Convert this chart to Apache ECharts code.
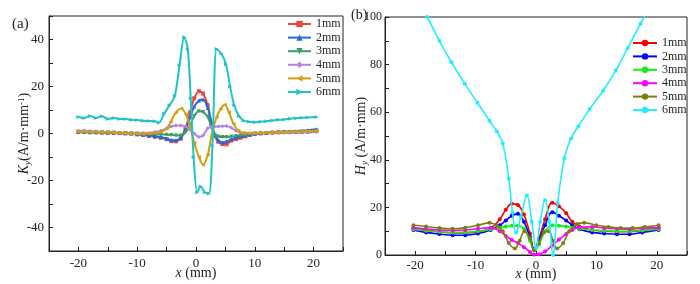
<!DOCTYPE html>
<html>
<head>
<meta charset="utf-8">
<script src="https://cdn.jsdelivr.net/npm/echarts@6/dist/echarts.min.js"></script>
<style>
html,body{margin:0;padding:0;background:#fff;}
#c{width:700px;height:284px;}
</style>
</head>
<body>
<div id="c"></div>
<script>
// ---------- Data: panel (a) K_y ----------
const names = ['1mm','2mm','3mm','4mm','5mm','6mm'];
const kxA = [-20,-19,-18,-17,-16,-15,-14,-13,-12,-11,-10,-9,-8,-7,-6,-5,-4.2,-3.4,-2.6,-1.8,-1,-0.3,0.5,1.2,2,2.6,3.2,3.8,4.5,5.2,6,6.8,7.6,8.4,9.2,10,11,12,13,14,15,16,17,18,19,20.5];
const ky1 = [0.8,0.8,0.7,0.6,0.5,0.4,0.3,0.2,0.1,0,-0.3,-0.6,-1.0,-1.4,-1.8,-2.4,-3.2,-3.3,-2.2,2,9,15,18,17,12,4,-1,-3.5,-4.5,-4.6,-3,-2.4,-1.8,-1.2,-0.6,-0.2,0,0.2,0.4,0.5,0.6,0.6,0.7,0.7,0.8,1.2];
const ky2 = [0.6,0.6,0.5,0.5,0.4,0.3,0.3,0.2,0.1,0,-0.3,-0.5,-0.8,-1.2,-1.6,-2.2,-2.8,-2.9,-1.8,1.5,7,11.5,14,14.5,11,5,-0.5,-3,-3.8,-3.4,-2.5,-1.8,-1.2,-0.8,-0.4,0,0.2,0.3,0.5,0.6,0.8,0.9,1.0,1.2,1.4,1.8];
const ky3 = [0.5,0.5,0.5,0.4,0.4,0.3,0.3,0.2,0.1,0,0,-0.1,-0.2,-0.3,-0.4,-0.5,-0.6,-0.8,-0.8,0.5,3.5,7.5,9.5,9.2,7,3,-0.5,-1.3,-1.5,-1.5,-1.3,-1.1,-0.8,-0.5,-0.2,0,0.1,0.2,0.2,0.3,0.3,0.4,0.4,0.5,0.5,0.6];
const ky4 = [1.0,1.2,0.8,0.9,0.6,0.6,0.4,0.3,0.1,0.1,0,0,0.2,0.6,1.2,2.2,3.0,3.4,3.4,3.0,1.5,0,-1.5,-0.8,2.2,2.7,2.9,3.0,3.1,3.2,2.4,1.2,0.4,0.1,0.1,0.2,0.2,0.3,0.3,0.4,0.4,0.5,0.5,0.6,0.7,0.8];
const kxB = [-20,-19,-18,-17,-16,-15,-14,-13,-12,-11,-10,-9,-8,-7,-6,-5,-4.3,-3.4,-2.5,-1.7,-1,-0.3,0.5,1.2,2.0,2.7,3.5,4.2,4.9,5.6,6.4,7.2,8,9,10,11,12,13,14,15,16,17,18,19,20.5];
const ky5 = [0.8,0.7,0.6,0.6,0.5,0.5,0.4,0.3,0.2,0,-0.1,-0.2,-0.1,0.2,0.6,2.0,5,9,10.6,8,3,-4,-10,-13.3,-9,0,7,10.5,12.2,9,4,1.2,0.3,0.1,0.2,0.3,0.3,0.4,0.5,0.6,0.7,0.8,0.9,1.0,1.3];
const kxC = [-20,-19,-18,-17,-16,-15,-14,-13,-12,-11,-10,-9,-8,-7,-6.3,-5.4,-4.5,-3.6,-2.8,-2.0,-1.4,-0.9,-0.4,0.2,0.8,1.5,2.2,2.8,3.5,4.3,5.1,5.8,6.5,7.3,8.1,9,10,11,12,13,14,15,16,17,18,19,20.5];
const ky6 = [7.0,6.6,7.5,6.6,7.3,6.2,6.6,6.2,6.2,5.8,5.7,5.4,5.3,5.2,4.6,8.5,12,16,29,41,36,15,-10,-25,-22.5,-25,-25.5,-5,36,34,29.5,20,12,7.5,5.5,5.0,4.8,5.0,5.2,5.5,5.8,6.0,6.3,6.5,6.7,6.8,7.0];

// ---------- Data: panel (b) H_y ----------
const hx = [-20.3,-18.2,-16,-13.8,-11.7,-9.6,-7.5,-6,-5,-4,-3,-2,-1,-0.3,0.5,1.5,2.7,3.8,5,6,7.2,9.3,11.3,13.4,15.5,17.6,20.3];
const hy1 = [11.2,10.4,9.8,9.3,9.3,9.8,11.3,15,19,21.5,21,17,9,2.5,7,15,22,20.5,17.5,14,12,10.5,10,9.8,9.8,10.3,11.3];
const hy2 = [10.5,9.5,8.8,8.3,8.3,9,10.5,12.5,14.5,16.5,17.3,14,7.5,2.3,6,12.5,18,16.5,14.5,12.5,10.8,9.5,9,8.7,8.7,9.5,10.5];
const hy3 = [10.8,10.2,9.8,9.5,9.5,10,10.8,11.5,12,12.3,12.3,11,6,2,4.5,10,12.5,12.3,12,11.5,11,10.5,10.2,10,10,10.3,10.8];
const hy4 = [11.5,11,10.5,10.3,10.5,11,11.5,10,8,6.3,5,3.3,1.3,0.2,0.3,1.5,4,6.5,8.8,10.5,11.7,11.8,11.3,11,10.8,11.2,11.5];
const ox = [-20.3,-18.2,-16,-13.8,-11.7,-9.6,-7.7,-6.5,-5.5,-4.5,-3.5,-2.7,-1.9,-1,-0.3,0.5,1.3,2.1,2.8,3.5,4.5,5.5,6.8,8,10,12,14,16,18,20.3];
const hy5 = [12.5,12,11.3,11,11.5,12.5,13.5,12.5,10,5,2.7,6,10,7,2,5,9.5,10,6,2.7,5,10,13,13.5,12.5,11.8,11.3,11.3,11.8,12.5];
const cx = [-20,-18,-16,-14,-11.8,-9.7,-7.7,-6.5,-5.5,-4.5,-3.9,-3.3,-2.5,-1.5,-0.7,0,0.7,1.5,2.2,2.8,3.6,4.7,5.8,7,8.9,11.1,13.2,15.2,17.3,19,20.5];
const hy6 = [109,100,90,81,72,64,56.4,52,46.8,32,18,9.5,16,25,14,3,14,23,14,0,22,40.7,49,54,61.4,69,77.5,87,97.2,105,112];

const FONT = 'Liberation Serif';
const zip = (xs, ys) => xs.map((x, i) => [x, ys[i]]);

const colorsA = ['#ef4646','#2469da','#3a9e62','#b383e6','#d39f12','#22c3c7'];
const symA = ['rect','triangle','triangle','diamond','triangle','triangle'];
const rotA = [0,0,180,0,90,-90];
const colorsB = ['#ff0000','#0000ff','#11ee11','#ff00ff','#7f7f10','#22eeff'];

const leftX = [kxA,kxA,kxA,kxA,kxB,kxC];
const leftY = [ky1,ky2,ky3,ky4,ky5,ky6];
const rightX = [hx,hx,hx,hx,ox,cx];
const rightY = [hy1,hy2,hy3,hy4,hy5,hy6];

const series = [];
names.forEach((n, i) => {
  series.push({
    type: 'line', name: n, xAxisIndex: 0, yAxisIndex: 0,
    data: zip(leftX[i], leftY[i]), smooth: 0.3,
    symbol: symA[i], symbolRotate: rotA[i], symbolSize: 4,
    lineStyle: {width: 2, color: colorsA[i]},
    itemStyle: {color: colorsA[i]}, z: 2 + i
  });
});
names.forEach((n, i) => {
  series.push({
    type: 'line', name: n + ' ', xAxisIndex: 1, yAxisIndex: 1,
    data: zip(rightX[i], rightY[i]), smooth: 0.4,
    symbol: 'circle', symbolSize: 4,
    lineStyle: {width: 1.6, color: colorsB[i]},
    itemStyle: {color: colorsB[i]}, z: 2 + i
  });
});

const axisCommon = {
  axisLine: {show: true, onZero: false, lineStyle: {color: '#222', width: 1}},
  axisTick: {show: true, inside: true, length: 4, lineStyle: {color: '#222'}},
  splitLine: {show: false},
  nameMoveOverlap: false,
  axisLabel: {color: '#222', fontFamily: FONT, fontSize: 13}
};

const xLabelFmt = v => (v % 10 === 0 && Math.abs(v) <= 20) ? String(v) : '';

const chart = echarts.init(document.getElementById('c'), null, {renderer: 'canvas'});
chart.setOption({
  animation: false,
  backgroundColor: '#fff',
  grid: [
    {left: 49, top: 16, width: 294, height: 235, show: true, borderColor: '#222', borderWidth: 1, containLabel: false, outerBoundsMode: 'none'},
    {left: 385, top: 17, width: 302, height: 238, show: true, borderColor: '#222', borderWidth: 1, containLabel: false, outerBoundsMode: 'none'}
  ],
  xAxis: [
    Object.assign({}, axisCommon, {
      type: 'value', gridIndex: 0, min: -25, max: 25, interval: 5,
      axisLabel: Object.assign({}, axisCommon.axisLabel, {formatter: xLabelFmt, margin: 6}),
      name: '{i|x} (mm)', nameLocation: 'middle', nameGap: 15,
      nameTextStyle: {fontFamily: FONT, fontSize: 14, color: '#222', rich: {i: {fontStyle: 'italic', fontFamily: FONT, fontSize: 14}}}
    }),
    Object.assign({}, axisCommon, {
      type: 'value', gridIndex: 1, min: -25, max: 25, interval: 5,
      axisLabel: Object.assign({}, axisCommon.axisLabel, {formatter: xLabelFmt, margin: 4}),
      name: '{i|x} (mm)', nameLocation: 'middle', nameGap: 12,
      nameTextStyle: {fontFamily: FONT, fontSize: 14, color: '#222', rich: {i: {fontStyle: 'italic', fontFamily: FONT, fontSize: 14}}}
    })
  ],
  yAxis: [
    Object.assign({}, axisCommon, {
      type: 'value', gridIndex: 0, min: -50, max: 50, interval: 10,
      axisLabel: Object.assign({}, axisCommon.axisLabel, {formatter: v => (v % 20 === 0 && Math.abs(v) < 50) ? String(v) : '', margin: 5}),
      name: '{i|K}{s|y}(A/m·mm{p|-1})', nameLocation: 'middle', nameGap: 17,
      nameTextStyle: {fontFamily: FONT, fontSize: 14, color: '#222', rich: {
        i: {fontStyle: 'italic', fontFamily: FONT, fontSize: 14},
        s: {fontStyle: 'italic', fontFamily: FONT, fontSize: 9, verticalAlign: 'bottom', padding: [6,0,0,0]},
        p: {fontFamily: FONT, fontSize: 9, verticalAlign: 'top', padding: [0,0,6,0]}
      }}
    }),
    Object.assign({}, axisCommon, {
      type: 'value', gridIndex: 1, min: 0, max: 100, interval: 10,
      axisLabel: Object.assign({}, axisCommon.axisLabel, {fontSize: 12, formatter: v => (v % 20 === 0) ? String(v) : '', margin: 3}),
      name: '{i|H}{s|y} (A/m·mm)', nameLocation: 'middle', nameGap: 16,
      nameTextStyle: {fontFamily: FONT, fontSize: 14, color: '#222', rich: {
        i: {fontStyle: 'italic', fontFamily: FONT, fontSize: 14},
        s: {fontStyle: 'italic', fontFamily: FONT, fontSize: 9, verticalAlign: 'bottom', padding: [6,0,0,0]}
      }}
    })
  ],
  legend: [
    {
      data: names, orient: 'vertical', left: 287, top: 18, padding: 0,
      itemWidth: 23, itemHeight: 8, itemGap: 1.6,
      textStyle: {fontFamily: FONT, fontSize: 12, color: '#222', lineHeight: 12},
      selectedMode: false
    },
    {
      data: names.map(n => n + ' '), orient: 'vertical', left: 632, top: 37, padding: 0,
      itemWidth: 24, itemHeight: 8, itemGap: 1.4,
      formatter: n => n.trim(),
      textStyle: {fontFamily: FONT, fontSize: 12, color: '#222', lineHeight: 12},
      selectedMode: false
    }
  ],
  graphic: [
    {type: 'text', left: 12, top: 17, style: {text: '(a)', font: '15px "Liberation Serif"', fill: '#222'}},
    {type: 'text', left: 351, top: 8, style: {text: '(b)', font: '14px "Liberation Serif"', fill: '#222'}}
  ],
  series: series
});
</script>
</body>
</html>
